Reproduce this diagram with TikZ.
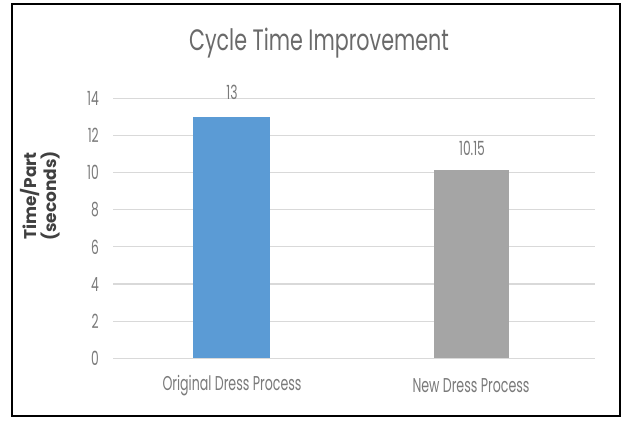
\documentclass[tikz,border=0pt]{standalone}
\usepackage{fontspec}
\setmainfont{Poppins}
\newfontfamily\narfont{Poppins}[FakeStretch=0.63]
\newfontfamily\titfont{Poppins}[FakeStretch=0.7]
\definecolor{barblue}{HTML}{5B9BD5}
\definecolor{bargray}{HTML}{A5A5A5}
\definecolor{gridc}{HTML}{D9D9D9}
\definecolor{txtc}{HTML}{7A7A7A}
\definecolor{titc}{HTML}{6A6A6A}
\definecolor{axtc}{HTML}{404040}
\begin{document}
\begin{tikzpicture}[x=1pt,y=-1pt,
  tick/.style={anchor=east,inner sep=0pt,text=txtc,font=\narfont\fontsize{19.5}{19.5}\selectfont},
  cat/.style={inner sep=0pt,text=txtc,font=\narfont\fontsize{20}{20}\selectfont},
  val/.style={inner sep=0pt,text=txtc,font=\narfont\fontsize{19.5}{19.5}\selectfont},
  gridl/.style={draw=gridc,line width=1.2pt},
  bar/.style={draw=none}]
\useasboundingbox (0,0) rectangle (631,420);
\fill[white] (0,0) rectangle (631,420);
\draw[black,line width=2.2pt] (12,4) rectangle (620,416);
% title
\node[text=titc,font=\titfont\fontsize{29.5}{29.5}\selectfont,inner sep=0pt] (title) at (319,43) {Cycle Time Improvement};
% gridlines and ticks
\foreach \v in {0,2,...,14} {
  \pgfmathsetmacro{\yy}{358.3-18.57*\v}
  \draw[gridl] (113,\yy) -- (595,\yy);
  \node[tick] (t\v) at (99,\yy) {\v};
}
% bars
\fill[barblue] (193,358.3) rectangle (270,116.9);
\fill[bargray] (434,358.3) rectangle (509,169.8);
% data labels
\node[val] (v1) at (232,92) {13};
\node[val] (v2) at (472,148) {10.15};
% categories
\node[cat] (c1) at (232,386) {Original Dress Process};
\node[cat] (c2) at (471,386) {New Dress Process};
% y axis title
\node[rotate=90,text=axtc,font=\bfseries\fontsize{17}{20}\selectfont,align=center,inner sep=0pt] (ytitle) at (40,196) {Time/Part\\(seconds)};
\end{tikzpicture}
\end{document}
